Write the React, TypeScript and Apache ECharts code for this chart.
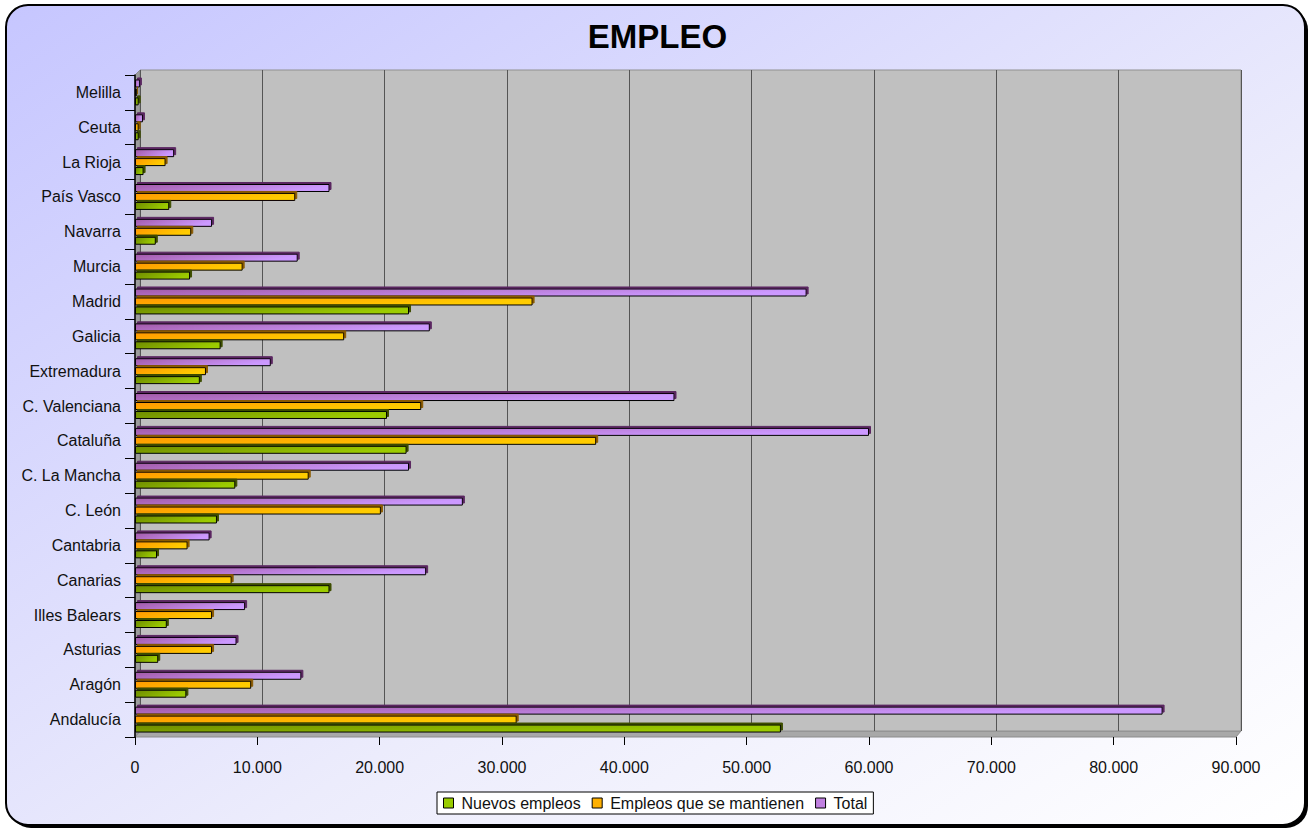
import React, { useEffect, useRef } from "react";
import * as echarts from "echarts";

const categories = [
  "Andalucía", "Aragón", "Asturias", "Illes Balears", "Canarias", "Cantabria",
  "C. León", "C. La Mancha", "Cataluña", "C. Valenciana", "Extremadura", "Galicia",
  "Madrid", "Murcia", "Navarra", "País Vasco", "La Rioja", "Ceuta", "Melilla",
];
const nuevosEmpleos = [52800, 4200, 1900, 2600, 15900, 1800, 6700, 8200, 22200, 20600, 5300, 7000, 22400, 4500, 1700, 2800, 700, 300, 300];
const empleosMantienen = [31200, 9500, 6300, 6300, 7900, 4300, 20100, 14200, 37700, 23400, 5800, 17100, 32500, 8800, 4600, 13100, 2500, 300, 150];
const totalEmpleo = [84000, 13600, 8300, 9000, 23800, 6100, 26800, 22400, 60000, 44100, 11100, 24100, 54900, 13300, 6300, 15900, 3200, 650, 400];
const seriesNames = ["Nuevos empleos", "Empleos que se mantienen", "Total"];
const xTicks = { min: 0, max: 90000, interval: 10000 };

const FONT = "'Liberation Sans', Arial, sans-serif";

function fmt(v: number) {
  return String(v).replace(/\B(?=(\d{3})+(?!\d))/g, ".");
}

function grad(a: string, b: string) {
  return new echarts.graphic.LinearGradient(0, 0, 1, 0.3, [
    { offset: 0, color: a },
    { offset: 1, color: b },
  ]);
}

export default function App() {
  const ref = useRef<HTMLDivElement>(null);
  useEffect(() => {
    document.body.style.margin = "0";
    const chart = echarts.init(ref.current!, null, { renderer: "svg" });
    const styles = [
      { a: "#6f8c00", b: "#9ccc00", sh: "#3d4d00", flat: "#99cc00" },
      { a: "#ff9900", b: "#ffcc00", sh: "#8a5a00", flat: "#ffb000" },
      { a: "#a35aa8", b: "#cc99ff", sh: "#5a2660", flat: "#c080e0" },
    ];
    const datas = [nuevosEmpleos, empleosMantienen, totalEmpleo];
    const order = [2, 1, 0];
    chart.setOption({
      animation: false,
      textStyle: { fontFamily: FONT },
      graphic: [
        {
          type: "rect",
          z: -20,
          silent: true,
          shape: { x: 9, y: 8, width: 1299, height: 820, r: 22 },
          style: { fill: "#000" },
        },
        {
          type: "rect",
          z: -19,
          silent: true,
          shape: { x: 6, y: 5, width: 1299, height: 820, r: 22 },
          style: {
            fill: new echarts.graphic.LinearGradient(0, 0, 1, 1, [
              { offset: 0, color: "#c6c6ff" },
              { offset: 0.6, color: "#ececfc" },
              { offset: 1, color: "#ffffff" },
            ]),
            stroke: "#000",
            lineWidth: 2,
          },
        },
        {
          type: "polygon",
          z: -1,
          silent: true,
          shape: { points: [[135, 737], [140, 731], [1241, 731], [1236, 737]] },
          style: { fill: "#a8a8a8", stroke: "#8c8c8c", lineWidth: 1 },
        },
        {
          type: "polygon",
          z: -1,
          silent: true,
          shape: { points: [[135, 75], [140, 70], [140, 731], [135, 737]] },
          style: { fill: "#9c9c9c", stroke: "#8c8c8c", lineWidth: 1 },
        },
      ],
      title: {
        text: "EMPLEO",
        left: "center",
        top: 15,
        textStyle: { fontSize: 33, fontWeight: "bold", color: "#000", fontFamily: FONT },
      },
      legend: {
        left: 437,
        top: 792,
        padding: [3, 6, 3, 6],
        backgroundColor: "#fff",
        borderColor: "#000",
        borderWidth: 1,
        itemWidth: 10,
        itemHeight: 10,
        itemGap: 11,
        icon: "rect",
        textStyle: { fontSize: 16, color: "#111", fontFamily: FONT, padding: [0, 0, 0, 3] },
        data: seriesNames.map((n, i) => ({
          name: n,
          itemStyle: { color: styles[i].flat, borderColor: "#000", borderWidth: 1 },
        })),
      },
      grid: [
        {
          left: 140,
          top: 70,
          width: 1101,
          height: 661,
          show: true,
          backgroundColor: "#c0c0c0",
          borderColor: "#909090",
          borderWidth: 1,
        },
        {
          left: 135,
          top: 75,
          width: 1101,
          height: 662,
          show: false,
        },
      ],
      xAxis: [
        {
          gridIndex: 0,
          type: "value",
          min: xTicks.min,
          max: xTicks.max,
          interval: xTicks.interval,
          axisLine: { show: false },
          axisTick: { show: false },
          axisLabel: { show: false },
          splitLine: { show: true, lineStyle: { color: "#555", width: 1 } },
        },
        {
          gridIndex: 1,
          type: "value",
          min: xTicks.min,
          max: xTicks.max,
          interval: xTicks.interval,
          axisLine: { show: false },
          axisTick: { show: true, length: 8, lineStyle: { color: "#000" } },
          axisLabel: { fontSize: 16, color: "#111", margin: 22, formatter: (v: number) => fmt(v) },
          splitLine: { show: false },
        },
      ],
      yAxis: [
        {
          gridIndex: 0,
          type: "category",
          data: categories,
          show: false,
        },
        {
          gridIndex: 1,
          type: "category",
          data: categories,
          axisLine: { show: true, lineStyle: { color: "#000", width: 1.5 } },
          axisTick: { show: true, length: 10, lineStyle: { color: "#000" } },
          axisLabel: { fontSize: 16, color: "#111", margin: 14 },
        },
      ],
      series: order.map((i) => ({
        type: "bar",
        name: seriesNames[i],
        xAxisIndex: 1,
        yAxisIndex: 1,
        data: datas[i],
        barWidth: 8,
        barGap: "12%",
        itemStyle: {
          color: grad(styles[i].a, styles[i].b),
          borderColor: "#000",
          borderWidth: 1,
          shadowColor: styles[i].sh,
          shadowOffsetX: 2,
          shadowOffsetY: -2,
          shadowBlur: 0,
        },
      })),
    });
    return () => chart.dispose();
  }, []);
  return <div ref={ref} style={{ width: 1315, height: 832 }} />;
}
